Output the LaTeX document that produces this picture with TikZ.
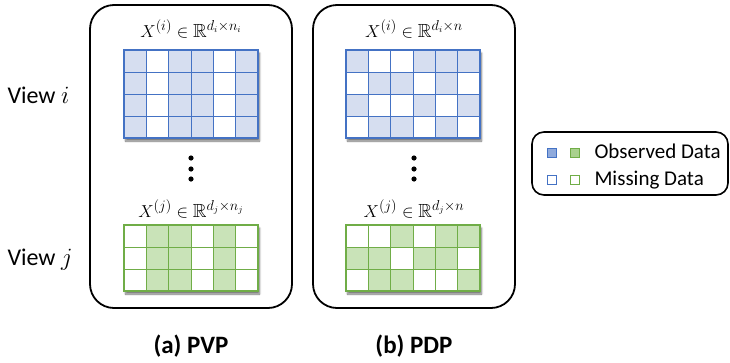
\documentclass[tikz,border=0pt]{standalone}
\usepackage{amsmath}
\usepackage{amsfonts}
\usepackage{fontspec}
\setmainfont{Carlito}
\usetikzlibrary{shadows.blur}

\definecolor{obsblue}{HTML}{4472C4}
\definecolor{cellblue}{HTML}{D6DEF0}
\definecolor{keyblue}{HTML}{8FAADC}
\definecolor{obsgreen}{HTML}{70AD47}
\definecolor{cellgreen}{HTML}{C9E3B8}
\definecolor{keygreen}{HTML}{A9D18E}

\tikzset{
  panel/.style={draw=black, line width=1.8pt, rounded corners=24pt},
  keybox/.style={draw=black, line width=1.6pt, rounded corners=12pt},
  gridshadow/.style={fill=white, blur shadow={shadow xshift=1.5pt, shadow yshift=-3pt, shadow blur steps=6, shadow opacity=55}},
  title/.style={anchor=base, font=\fontsize{19}{22}\selectfont},
  viewlabel/.style={anchor=base west, font=\fontsize{24}{28}\selectfont},
  caption/.style={anchor=base, font=\fontsize{25}{30}\selectfont\bfseries},
  keytext/.style={anchor=base west, font=\fontsize{21}{25}\selectfont},
  keysq/.style={line width=1pt},
}

% #1,#2 top left corner, #3 colour (blue/green), #4 number of rows, #5 rows of 0/1
\newcommand{\datagrid}[5]{%
  \fill[gridshadow] (#1,#2) rectangle ++(134,#4*22);
  \foreach \bits [count=\r] in {#5} {
    \foreach \b [count=\c] in \bits {
      \ifnum\b=1
        \fill[cell#3] (#1+\c*22.333-22.333,#2+\r*22-22) rectangle ++(22.333,22);
      \fi
      \draw[obs#3, line width=0.9pt] (#1+\c*22.333-22.333,#2+\r*22-22) rectangle ++(22.333,22);
    }
  }
  \draw[obs#3, line width=1.8pt] (#1,#2) rectangle ++(134,#4*22);
}

\begin{document}
\begin{tikzpicture}[x=1pt, y=-1pt]
\useasboundingbox (0,0) rectangle (730,362);

% views
\node[viewlabel] (viewi) at (4,103) {View $i$};
\node[viewlabel] (viewj) at (4,265) {View $j$};

% (a) partial views
\draw[panel] (90,5) rectangle (292,308);
\node[title] (pvptop) at (191,37) {$X^{(i)}\in\mathbb{R}^{d_i\times n_i}$};
\datagrid{124}{50}{blue}{4}{{1,0,1,1,0,1},{1,0,1,1,0,1},{1,0,1,1,0,1},{1,0,1,1,0,1}}
\foreach \y in {158,169,179} \fill (191,\y) circle (2.6pt);
\node[title] (pvpbot) at (191,217) {$X^{(j)}\in\mathbb{R}^{d_j\times n_j}$};
\datagrid{124}{225}{green}{3}{{0,1,1,0,1,0},{0,1,1,0,1,0},{0,1,1,0,1,0}}
\node[caption] (pvp) at (191,353) {(a) PVP};

% (b) partial data
\draw[panel] (313,5) rectangle (515,308);
\node[title] (pdptop) at (414,37) {$X^{(i)}\in\mathbb{R}^{d_i\times n}$};
\datagrid{346}{50}{blue}{4}{{1,0,0,1,1,1},{0,1,1,0,1,0},{1,0,0,1,0,1},{0,1,1,0,1,0}}
\foreach \y in {158,169,179} \fill (414,\y) circle (2.6pt);
\node[title] (pdpbot) at (414,217) {$X^{(j)}\in\mathbb{R}^{d_j\times n}$};
\datagrid{346}{225}{green}{3}{{0,0,1,0,1,1},{1,1,0,1,1,0},{0,1,1,0,0,1}}
\node[caption] (pdp) at (414,353) {(b) PDP};

% legend
\draw[keybox] (532,132) rectangle (728,195);
\draw[keysq, obsblue, fill=keyblue] (547,148) rectangle ++(9,9);
\draw[keysq, obsgreen, fill=keygreen] (570,148) rectangle ++(9,9);
\node[keytext] (obs) at (591,158) {Observed Data};
\draw[keysq, obsblue, fill=white] (547,175) rectangle ++(9,9);
\draw[keysq, obsgreen, fill=white] (570,175) rectangle ++(9,9);
\node[keytext] (mis) at (591,185) {Missing Data};
\end{tikzpicture}
\end{document}
